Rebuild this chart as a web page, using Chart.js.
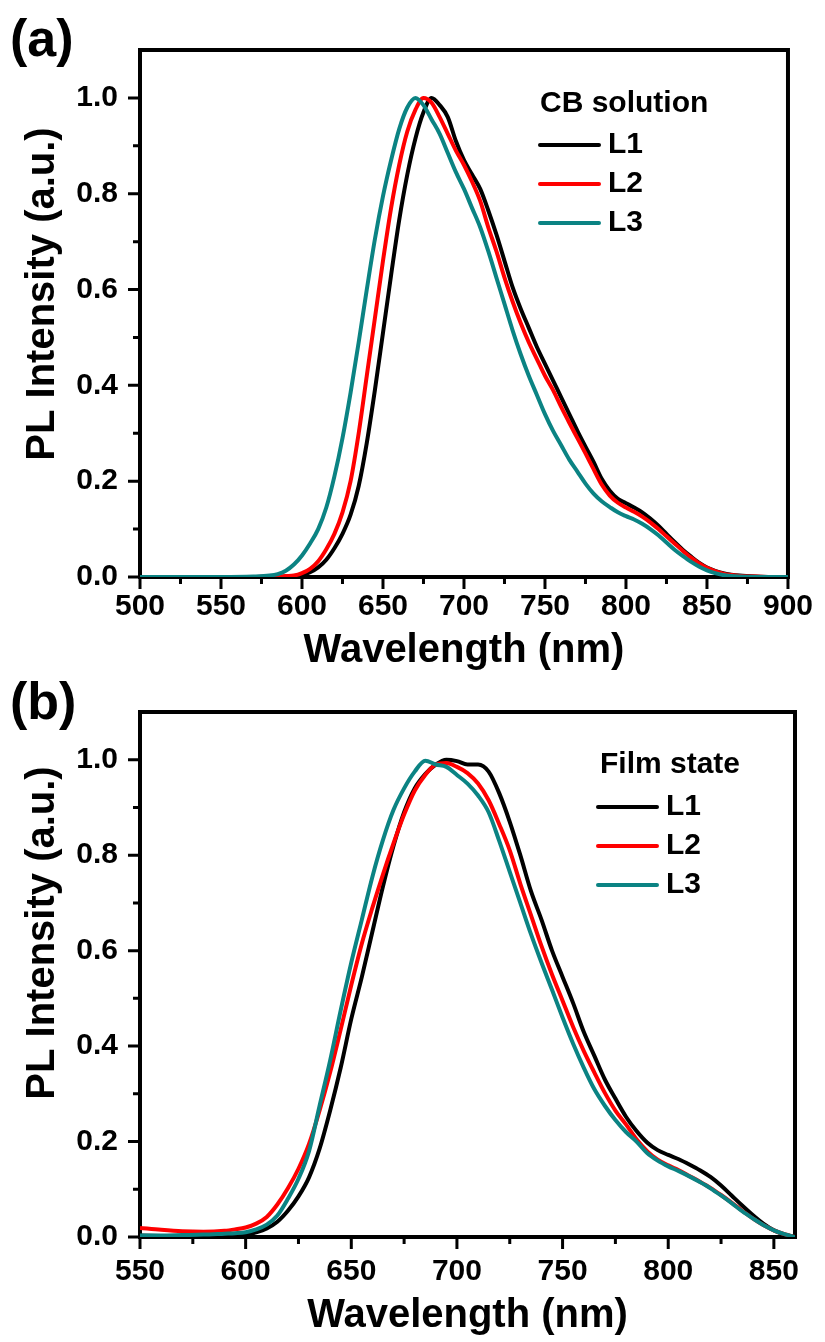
<!DOCTYPE html>
<html lang="en">
<head>
<meta charset="UTF-8">
<title>PL spectra</title>
<script src="https://cdn.jsdelivr.net/npm/chart.js"></script>
<style>
  html, body { margin: 0; padding: 0; background: #fff; }
  canvas { display: block; }
</style>
</head>
<body>
<canvas id="chartA" width="825" height="671"></canvas>
<canvas id="chartB" width="825" height="671"></canvas>
<script>
// (a) CB solution
const wlA = [500, 550, 570, 580, 585, 590,
  595, 600, 605, 610, 615, 620, 625, 630, 635, 640,
  645, 650, 655, 660, 665, 670, 675, 680, 685, 690,
  695, 700, 705, 710, 715, 720, 725, 730, 735, 740,
  745, 750, 755, 760, 765, 770, 775, 780, 785, 790,
  795, 800, 805, 810, 815, 820, 825, 830, 835, 840,
  845, 850, 855, 860, 865, 870, 880, 890, 900];
const solL1 = [0, 0, 0, 0, 0, 0.001,
  0.002, 0.004, 0.01, 0.02, 0.036, 0.06, 0.09, 0.13, 0.19, 0.28,
  0.39, 0.51, 0.63, 0.745, 0.84, 0.915, 0.97, 1.0, 0.985, 0.96,
  0.91, 0.87, 0.84, 0.81, 0.765, 0.715, 0.66, 0.605, 0.56, 0.52,
  0.48, 0.445, 0.41, 0.375, 0.34, 0.305, 0.272, 0.24, 0.205, 0.18,
  0.163, 0.154, 0.145, 0.135, 0.122, 0.107, 0.09, 0.073, 0.057, 0.043,
  0.03, 0.02, 0.013, 0.008, 0.005, 0.003, 0.001, 0, 0];
const solL2 = [0, 0, 0, 0.001, 0.001, 0.002,
  0.003, 0.008, 0.017, 0.033, 0.058, 0.09, 0.135, 0.2, 0.3, 0.42,
  0.54, 0.66, 0.77, 0.86, 0.93, 0.975, 1.0, 0.99, 0.96, 0.925,
  0.89, 0.86, 0.825, 0.785, 0.73, 0.68, 0.625, 0.575, 0.53, 0.49,
  0.455, 0.42, 0.39, 0.355, 0.322, 0.29, 0.258, 0.225, 0.193, 0.17,
  0.155, 0.145, 0.136, 0.126, 0.114, 0.1, 0.085, 0.07, 0.055, 0.041,
  0.029, 0.019, 0.012, 0.007, 0.004, 0.002, 0.001, 0, 0];
const solL3 = [0, 0, 0.001, 0.003, 0.006, 0.013,
  0.026, 0.045, 0.07, 0.1, 0.145, 0.21, 0.29, 0.385, 0.49, 0.6,
  0.705, 0.795, 0.87, 0.935, 0.98, 1.0, 0.985, 0.955, 0.925, 0.885,
  0.845, 0.81, 0.77, 0.73, 0.68, 0.625, 0.57, 0.515, 0.465, 0.42,
  0.38, 0.34, 0.305, 0.275, 0.245, 0.22, 0.195, 0.174, 0.158, 0.146,
  0.135, 0.127, 0.12, 0.111, 0.1, 0.087, 0.072, 0.057, 0.044, 0.032,
  0.022, 0.014, 0.008, 0.004, 0.002, 0.001, 0, 0, 0];

// (b) film state
const wlB = [550, 560, 570, 580, 590,
  595, 600, 605, 610, 615, 620, 625, 630, 635, 640,
  645, 650, 655, 660, 665, 670, 675, 680, 685, 690,
  695, 700, 705, 710, 715, 720, 725, 730, 735, 740,
  745, 750, 755, 760, 765, 770, 775, 780, 785, 790,
  795, 800, 805, 810, 815, 820, 825, 830, 835, 840,
  845, 850, 855, 860];
const filmL1 = [0.003, 0.002, 0.001, 0.001, 0.002,
  0.003, 0.005, 0.01, 0.018, 0.032, 0.055, 0.085, 0.125, 0.185, 0.265,
  0.355, 0.457, 0.545, 0.64, 0.735, 0.82, 0.89, 0.94, 0.97, 0.99,
  1.0, 0.997, 0.99, 0.99, 0.975, 0.93, 0.87, 0.8, 0.725, 0.665,
  0.6, 0.545, 0.49, 0.43, 0.38, 0.33, 0.29, 0.252, 0.222, 0.198,
  0.182, 0.172, 0.163, 0.152, 0.14, 0.126, 0.108, 0.087, 0.066, 0.046,
  0.028, 0.014, 0.005, 0];
const filmL2 = [0.019, 0.015, 0.012, 0.011, 0.013,
  0.016, 0.02, 0.028, 0.042, 0.068, 0.102, 0.143, 0.195, 0.265, 0.345,
  0.435, 0.528, 0.615, 0.69, 0.76, 0.825, 0.885, 0.935, 0.968, 0.99,
  0.993, 0.985, 0.972, 0.95, 0.915, 0.865, 0.81, 0.74, 0.675, 0.61,
  0.55, 0.495, 0.44, 0.39, 0.345, 0.302, 0.265, 0.236, 0.205, 0.18,
  0.162, 0.15, 0.14, 0.128, 0.116, 0.103, 0.088, 0.072, 0.055, 0.039,
  0.025, 0.014, 0.006, 0];
const filmL3 = [0.003, 0.003, 0.004, 0.005, 0.007,
  0.008, 0.01, 0.016, 0.026, 0.045, 0.08, 0.122, 0.18, 0.275, 0.37,
  0.475, 0.575, 0.665, 0.755, 0.832, 0.895, 0.94, 0.975, 0.998, 0.99,
  0.985, 0.968, 0.95, 0.925, 0.89, 0.83, 0.765, 0.7, 0.635, 0.575,
  0.518, 0.46, 0.405, 0.355, 0.31, 0.275, 0.245, 0.22, 0.2, 0.176,
  0.16, 0.148, 0.138, 0.127, 0.115, 0.102, 0.087, 0.071, 0.054, 0.039,
  0.025, 0.014, 0.006, 0];

// ticks
const xMajorA = [500, 550, 600, 650, 700, 750, 800, 850, 900];
const xMinorA = [525, 575, 625, 675, 725, 775, 825, 875];
const xMajorB = [550, 600, 650, 700, 750, 800, 850];
const xMinorB = [575, 625, 675, 725, 775, 825];
const yMajor = [0, 0.2, 0.4, 0.6, 0.8, 1.0];
const yMinor = [0.1, 0.3, 0.5, 0.7, 0.9];

const seriesNames = ['L1', 'L2', 'L3'];
const lineColors = ['#000000', '#ff0000', '#0b8383'];
const FONT = "'Liberation Sans', Arial, sans-serif";

Chart.defaults.font.family = FONT;
Chart.defaults.color = '#000';

function makeDecor(p) {
  return {
    id: 'decor',
    beforeDatasetsDraw(chart) {
      const ctx = chart.ctx, a = chart.chartArea;
      const xs = chart.scales.x, ys = chart.scales.y;
      ctx.save();
      ctx.strokeStyle = '#000';
      ctx.lineWidth = 3;
      ctx.beginPath();
      p.xMajor.forEach(v => { const px = xs.getPixelForValue(v); ctx.moveTo(px, a.bottom); ctx.lineTo(px, a.bottom + 12); });
      p.xMinor.forEach(v => { const px = xs.getPixelForValue(v); ctx.moveTo(px, a.bottom); ctx.lineTo(px, a.bottom + 7); });
      yMajor.forEach(v => { const py = ys.getPixelForValue(v); ctx.moveTo(a.left, py); ctx.lineTo(a.left - 12, py); });
      yMinor.forEach(v => { const py = ys.getPixelForValue(v); ctx.moveTo(a.left, py); ctx.lineTo(a.left - 7, py); });
      ctx.stroke();
      ctx.lineWidth = 4;
      ctx.strokeRect(a.left, a.top, a.right - a.left, a.bottom - a.top);
      ctx.restore();
    },
    afterDraw(chart) {
      const ctx = chart.ctx, a = chart.chartArea;
      ctx.save();
      ctx.fillStyle = '#000';
      // panel letter
      ctx.font = 'bold 52px ' + FONT;
      ctx.textAlign = 'left';
      ctx.textBaseline = 'alphabetic';
      ctx.fillText(p.panel, 10, p.panelY);
      // axis titles
      ctx.font = 'bold 40px ' + FONT;
      ctx.textAlign = 'center';
      ctx.textBaseline = 'middle';
      ctx.fillText('Wavelength (nm)', (a.left + a.right) / 2, p.xTitleY);
      ctx.save();
      ctx.translate(43, p.yTitleY);
      ctx.rotate(-Math.PI / 2);
      ctx.fillText('PL Intensity (a.u.)', 0, 0);
      ctx.restore();
      // legend
      ctx.font = 'bold 30px ' + FONT;
      ctx.textAlign = 'left';
      ctx.fillText(p.legendTitle, p.legTitleX, p.legTitleY);
      ctx.lineWidth = 4;
      ctx.lineCap = 'round';
      chart.data.datasets.forEach((ds, i) => {
        const ly = p.legY + i * 39;
        ctx.strokeStyle = ds.borderColor;
        ctx.beginPath();
        ctx.moveTo(p.legX, ly);
        ctx.lineTo(p.legX + 59, ly);
        ctx.stroke();
        ctx.fillText(ds.label, p.legX + 68, ly);
      });
      ctx.restore();
    }
  };
}

function buildChart(id, wl, series, p) {
  return new Chart(document.getElementById(id), {
    type: 'line',
    data: {
      datasets: series.map((vals, i) => ({
        label: seriesNames[i],
        data: wl.map((w, k) => ({ x: w, y: vals[k] })),
        borderColor: lineColors[i],
        borderWidth: 4,
        pointRadius: 0,
        cubicInterpolationMode: 'monotone',
        order: 3 - i
      }))
    },
    options: {
      responsive: false,
      animation: false,
      layout: { padding: { top: p.top, right: 30, left: 0, bottom: 0 } },
      plugins: { legend: { display: false }, tooltip: { enabled: false } },
      scales: {
        x: {
          type: 'linear', min: p.xMin, max: p.xMax,
          afterBuildTicks: s => { s.ticks = p.xMajor.map(v => ({ value: v })); },
          afterFit: s => { s.height = p.xAxisH; },
          grid: { display: false, drawTicks: false },
          border: { display: false },
          ticks: { padding: p.xPad, maxRotation: 0, autoSkip: false, font: { size: 30, weight: 'bold' } }
        },
        y: {
          min: 0, max: 1.1,
          afterBuildTicks: s => { s.ticks = yMajor.map(v => ({ value: v })); },
          afterFit: s => { s.width = 140; },
          grid: { display: false, drawTicks: false },
          border: { display: false },
          ticks: { padding: 22, font: { size: 30, weight: 'bold' }, callback: v => v.toFixed(1) }
        }
      }
    },
    plugins: [makeDecor(p)]
  });
}

buildChart('chartA', wlA, [solL1, solL2, solL3], {
  panel: '(a)', panelY: 56, top: 50, xAxisH: 94, xPad: 12,
  xMin: 500, xMax: 900, xMajor: xMajorA, xMinor: xMinorA,
  xTitleY: 651, yTitleY: 294,
  legendTitle: 'CB solution', legTitleX: 540, legTitleY: 104, legX: 540, legY: 145
});

buildChart('chartB', wlB, [filmL1, filmL2, filmL3], {
  panel: '(b)', panelY: 48, top: 41, xAxisH: 105, xPad: 17,
  xMin: 550, xMax: 860, xMajor: xMajorB, xMinor: xMinorB,
  xTitleY: 645, yTitleY: 262,
  legendTitle: 'Film state', legTitleX: 600, legTitleY: 94, legX: 598, legY: 136
});
</script>
</body>
</html>
